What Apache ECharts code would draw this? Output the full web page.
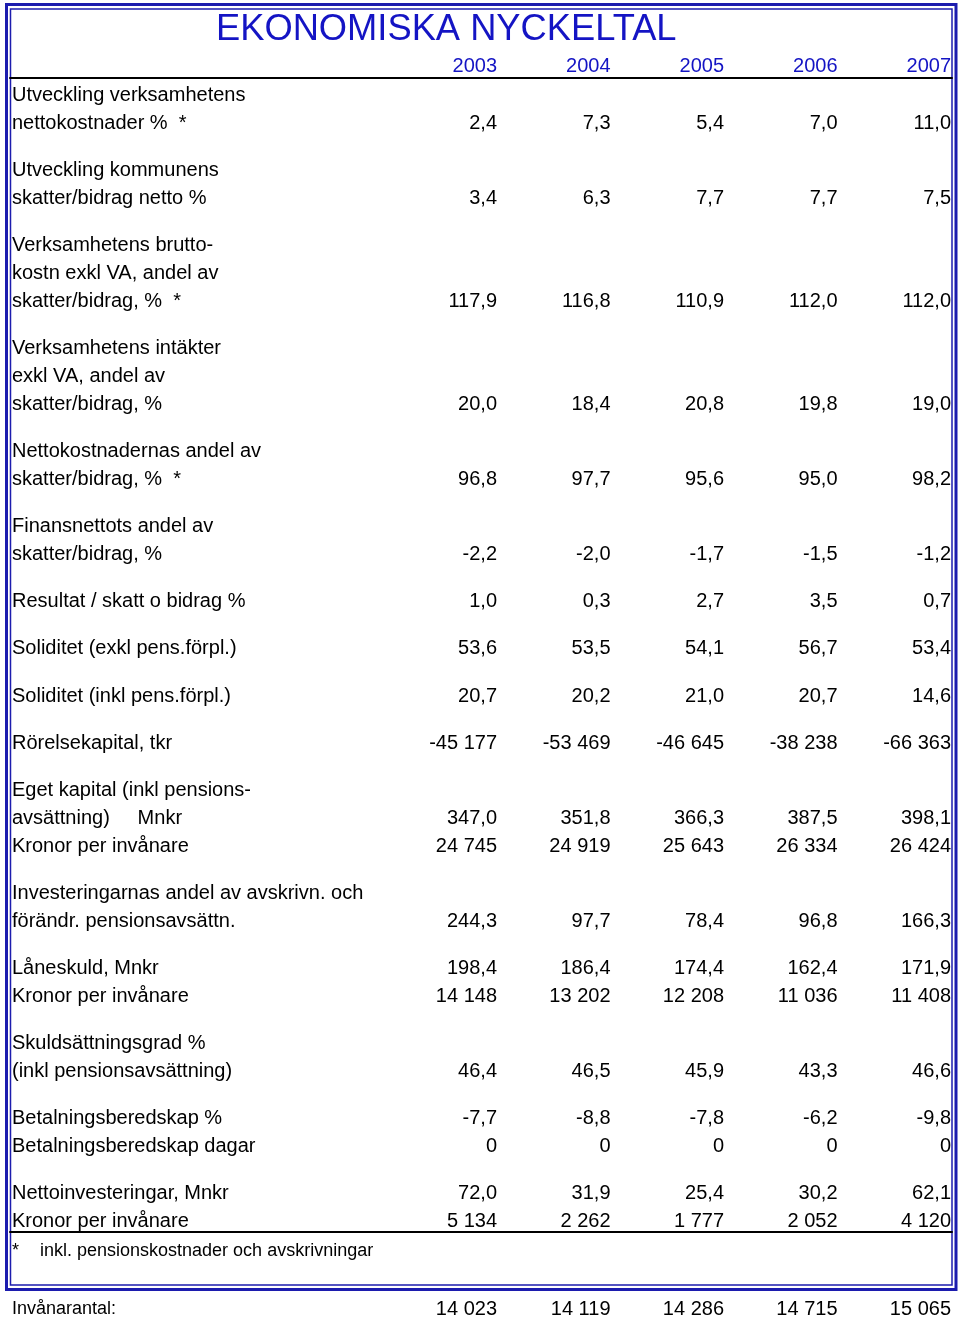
<!DOCTYPE html>
<html>
<head>
<meta charset="utf-8">
<script src="https://cdn.jsdelivr.net/npm/echarts@6/dist/echarts.min.js"></script>
<style>
html,body{margin:0;padding:0;background:#fff;}
#chart{width:960px;height:1318px;}
</style>
</head>
<body>
<div id="chart"></div>
<script>
// ---------- DATA ----------
const titleText = 'EKONOMISKA NYCKELTAL';
const years = ['2003', '2004', '2005', '2006', '2007'];

// Row label blocks (each block = lines of text)
const labelBlocks = [
  ['Utveckling verksamhetens', 'nettokostnader %  *'],
  ['Utveckling kommunens', 'skatter/bidrag netto %'],
  ['Verksamhetens brutto-', 'kostn exkl VA, andel av', 'skatter/bidrag, %  *'],
  ['Verksamhetens intäkter', 'exkl VA, andel av', 'skatter/bidrag, %'],
  ['Nettokostnadernas andel av', 'skatter/bidrag, %  *'],
  ['Finansnettots andel av', 'skatter/bidrag, %'],
  ['Resultat / skatt o bidrag %'],
  ['Soliditet (exkl pens.förpl.)'],
  ['Soliditet (inkl pens.förpl.)'],
  ['Rörelsekapital, tkr'],
  ['Eget kapital (inkl pensions-', 'avsättning)     Mnkr', 'Kronor per invånare'],
  ['Investeringarnas andel av avskrivn. och', 'förändr. pensionsavsättn.'],
  ['Låneskuld, Mnkr', 'Kronor per invånare'],
  ['Skuldsättningsgrad %', '(inkl pensionsavsättning)'],
  ['Betalningsberedskap %', 'Betalningsberedskap dagar'],
  ['Nettoinvesteringar, Mnkr', 'Kronor per invånare']
];
// number of trailing lines in each block that carry values
const valueLinesPerBlock = [1, 1, 1, 1, 1, 1, 1, 1, 1, 1, 2, 1, 2, 1, 2, 2];

// Values, one array per value row (2003..2007)
const utvNettokostnader   = [2.4, 7.3, 5.4, 7.0, 11.0];
const utvSkatter          = [3.4, 6.3, 7.7, 7.7, 7.5];
const bruttokostnAndel    = [117.9, 116.8, 110.9, 112.0, 112.0];
const intakterAndel       = [20.0, 18.4, 20.8, 19.8, 19.0];
const nettokostnAndel     = [96.8, 97.7, 95.6, 95.0, 98.2];
const finansnettoAndel    = [-2.2, -2.0, -1.7, -1.5, -1.2];
const resultat            = [1.0, 0.3, 2.7, 3.5, 0.7];
const soliditetExkl       = [53.6, 53.5, 54.1, 56.7, 53.4];
const soliditetInkl       = [20.7, 20.2, 21.0, 20.7, 14.6];
const rorelsekapital      = [-45177, -53469, -46645, -38238, -66363];
const egetKapitalMnkr     = [347.0, 351.8, 366.3, 387.5, 398.1];
const egetKapitalPerInv   = [24745, 24919, 25643, 26334, 26424];
const investeringarAndel  = [244.3, 97.7, 78.4, 96.8, 166.3];
const laneskuldMnkr       = [198.4, 186.4, 174.4, 162.4, 171.9];
const laneskuldPerInv     = [14148, 13202, 12208, 11036, 11408];
const skuldsattningsgrad  = [46.4, 46.5, 45.9, 43.3, 46.6];
const betalningsberedskap = [-7.7, -8.8, -7.8, -6.2, -9.8];
const betalningsDagar     = [0, 0, 0, 0, 0];
const nettoinvMnkr        = [72.0, 31.9, 25.4, 30.2, 62.1];
const nettoinvPerInv      = [5134, 2262, 1777, 2052, 4120];
const invanarantal        = [14023, 14119, 14286, 14715, 15065];

const valueRows = [
  utvNettokostnader, utvSkatter, bruttokostnAndel, intakterAndel, nettokostnAndel,
  finansnettoAndel, resultat, soliditetExkl, soliditetInkl, rorelsekapital,
  egetKapitalMnkr, egetKapitalPerInv, investeringarAndel, laneskuldMnkr, laneskuldPerInv,
  skuldsattningsgrad, betalningsberedskap, betalningsDagar, nettoinvMnkr, nettoinvPerInv
];
const valueDecimals = [1, 1, 1, 1, 1, 1, 1, 1, 1, 0, 1, 0, 1, 1, 0, 1, 1, 0, 1, 0];

const footnoteMark = '*';
const footnoteText = 'inkl. pensionskostnader och avskrivningar';
const invLabel = 'Invånarantal:';

// ---------- LAYOUT ----------
const FONT = '"Liberation Sans", Arial, Helvetica, sans-serif';
const BLUE = '#1414c4';
const BORDER_BLUE = '#1c1cae';
const BLOCK_GAP = 0.683;   // extra spacing between blocks, in line units

function fmt(v, dec) {
  const neg = v < 0;
  let s = Math.abs(v).toFixed(dec);
  let [ip, fp] = s.split('.');
  ip = ip.replace(/\B(?=(\d{3})+(?!\d))/g, ' ');
  return (neg ? '-' : '') + ip + (fp !== undefined ? ',' + fp : '');
}

// compute line positions
const labelItems = [];   // {text, pos}
const valueLinePos = []; // positions of value-bearing lines (in order)
let line = 0;
labelBlocks.forEach((blk, bi) => {
  const start = blk.length - valueLinesPerBlock[bi];
  blk.forEach((t, li) => {
    const pos = line + bi * BLOCK_GAP;
    labelItems.push({ text: t, pos: pos });
    if (li >= start) valueLinePos.push(pos);
    line++;
  });
});
const lastPos = labelItems[labelItems.length - 1].pos;
const invPos = lastPos + 3.11;

const valueTexts = [];
const valueData = [];
valueRows.forEach((row, ri) => {
  row.forEach((v, ci) => {
    valueData.push([ci, valueLinePos[ri]]);
    valueTexts.push(fmt(v, valueDecimals[ri]));
  });
});
invanarantal.forEach((v, ci) => {
  valueData.push([ci, invPos]);
  valueTexts.push(fmt(v, 0));
});
const invFont = 18;

const labelData = labelItems.map(it => [0, it.pos]);
const labelTexts = labelItems.map(it => it.text);
labelData.push([0, invPos]);
labelTexts.push(invLabel);

const Y_MIN = -0.607, Y_MAX = lastPos + 0.359;

const chart = echarts.init(document.getElementById('chart'), null, { renderer: 'canvas' });
chart.setOption({
  backgroundColor: '#ffffff',
  animation: false,
  title: [
    { text: titleText, left: 216, top: 12, padding: 0,
      textStyle: { color: BLUE, fontSize: 36.3, fontWeight: 'normal', fontFamily: FONT } },
    { text: footnoteMark, left: 12, top: 1242, padding: 0,
      textStyle: { color: '#000', fontSize: 18, fontWeight: 'normal', fontFamily: FONT } },
    { text: footnoteText, left: 40, top: 1242, padding: 0,
      textStyle: { color: '#000', fontSize: 18, fontWeight: 'normal', fontFamily: FONT } }
  ],
  graphic: [
    { type: 'rect', silent: true, shape: { x: 6.5, y: 4.5, width: 949.5, height: 1285 },
      style: { fill: 'none', stroke: BORDER_BLUE, lineWidth: 3 } },
    { type: 'rect', silent: true, shape: { x: 10.5, y: 9, width: 941.5, height: 1276 },
      style: { fill: 'none', stroke: BORDER_BLUE, lineWidth: 1.5 } }
  ],
  grid: [
    { left: 10, right: 8, top: 78, bottom: 86 },
    { left: 497, right: 9, top: 78, bottom: 86 }
  ],
  xAxis: [
    { gridIndex: 0, type: 'value', min: 0, max: 1, position: 'top',
      axisLine: { show: true, onZero: false, lineStyle: { color: '#000', width: 2 } },
      axisTick: { show: false }, axisLabel: { show: false }, splitLine: { show: false } },
    { gridIndex: 0, type: 'value', min: 0, max: 1, position: 'bottom',
      axisLine: { show: true, onZero: false, lineStyle: { color: '#000', width: 2 } },
      axisTick: { show: false }, axisLabel: { show: false }, splitLine: { show: false } },
    { gridIndex: 1, type: 'category', data: years, boundaryGap: false, position: 'top',
      axisLine: { show: false }, axisTick: { show: false }, splitLine: { show: false },
      axisLabel: { show: true, interval: 0, align: 'right', margin: 2, color: BLUE,
        fontSize: 20, fontFamily: FONT, showMinLabel: true, showMaxLabel: true, hideOverlap: false } }
  ],
  yAxis: [
    { gridIndex: 0, type: 'value', inverse: true, min: Y_MIN, max: Y_MAX, show: false },
    { gridIndex: 1, type: 'value', inverse: true, min: Y_MIN, max: Y_MAX, show: false }
  ],
  series: [
    {
      type: 'custom', name: 'labels', xAxisIndex: 0, yAxisIndex: 0, clip: false,
      data: labelData,
      renderItem: function (params, api) {
        const c = api.coord([api.value(0), api.value(1)]);
        const isInv = params.dataIndex === labelData.length - 1;
        return { type: 'text', x: c[0] + 2, y: c[1],
          style: { text: labelTexts[params.dataIndex], fill: '#000',
            font: (isInv ? invFont : 20) + 'px ' + FONT,
            textAlign: 'left', textVerticalAlign: 'middle' } };
      }
    },
    {
      type: 'custom', name: 'values', xAxisIndex: 2, yAxisIndex: 1, clip: false,
      data: valueData,
      renderItem: function (params, api) {
        const c = api.coord([api.value(0), api.value(1)]);
        return { type: 'text', x: c[0], y: c[1],
          style: { text: valueTexts[params.dataIndex], fill: '#000',
            font: '20px ' + FONT,
            textAlign: 'right', textVerticalAlign: 'middle' } };
      }
    }
  ]
});
</script>
</body>
</html>
